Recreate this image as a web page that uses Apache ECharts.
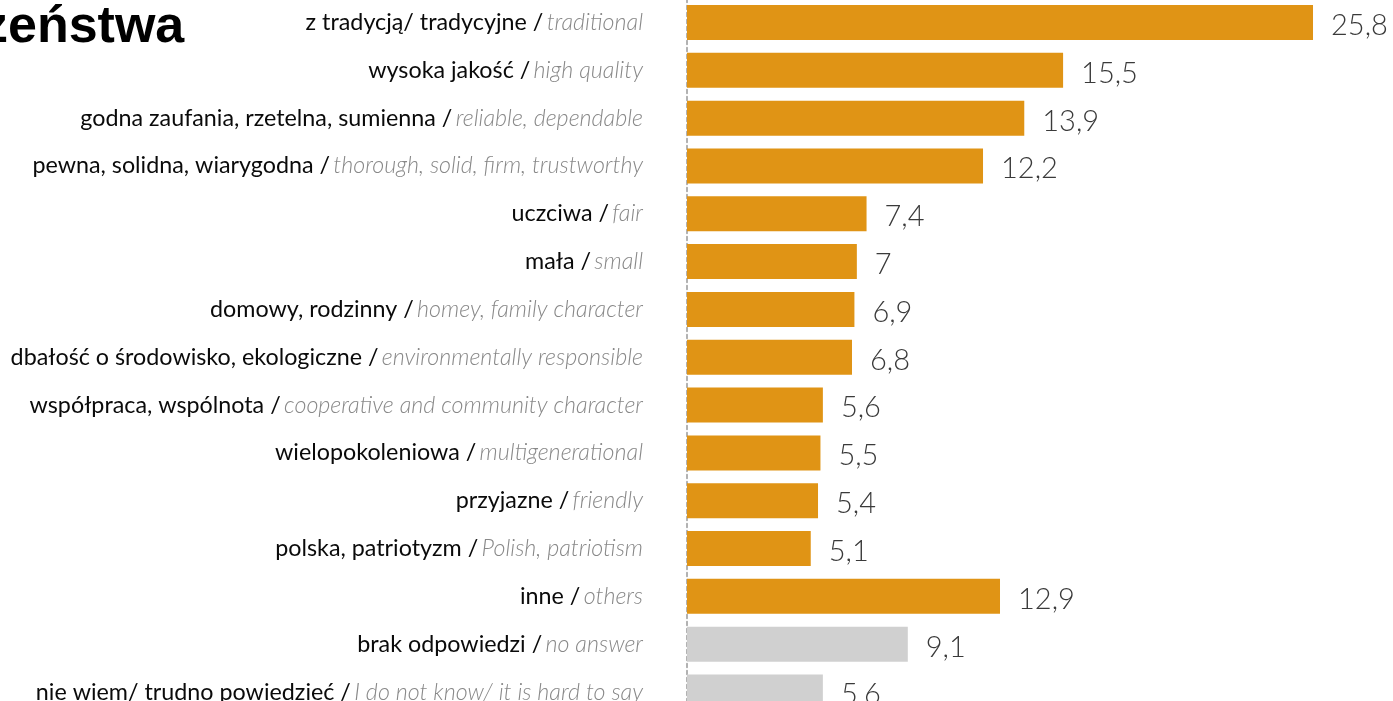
<!DOCTYPE html>
<html>
<head>
<meta charset="utf-8">
<script src="https://cdn.jsdelivr.net/npm/echarts@6/dist/echarts.min.js"></script>
<style>
  html, body { margin: 0; padding: 0; background: #fff; overflow: hidden; width: 1393px; height: 701px; }
  #chart { position: absolute; left: 0; top: -20px; width: 1393px; height: 760px; }
</style>
</head>
<body>
<div id="chart"></div>
<script>
// Polish answer wording
const labelsPl = [
  'z tradycją/ tradycyjne',
  'wysoka jakość',
  'godna zaufania, rzetelna, sumienna',
  'pewna, solidna, wiarygodna',
  'uczciwa',
  'mała',
  'domowy, rodzinny',
  'dbałość o środowisko, ekologiczne',
  'współpraca, wspólnota',
  'wielopokoleniowa',
  'przyjazne',
  'polska, patriotyzm',
  'inne',
  'brak odpowiedzi',
  'nie wiem/ trudno powiedzieć'
];
// English translation of each answer
const labelsEn = [
  'traditional',
  'high quality',
  'reliable, dependable',
  'thorough, solid, firm, trustworthy',
  'fair',
  'small',
  'homey, family character',
  'environmentally responsible',
  'cooperative and community character',
  'multigenerational',
  'friendly',
  'Polish, patriotism',
  'others',
  'no answer',
  'I do not know/ it is hard to say'
];
// share of responses, %
const values = [25.8, 15.5, 13.9, 12.2, 7.4, 7, 6.9, 6.8, 5.6, 5.5, 5.4, 5.1, 12.9, 9.1, 5.6];
// answer kind: substantive answer or missing answer
const answerKind = ['answer','answer','answer','answer','answer','answer','answer','answer','answer','answer','answer','answer','answer','missing','missing'];
const titleText = 'zeństwa';

const kindColor = { answer: '#E09415', missing: '#D0D0D0' };
const categories = labelsPl.map((p, i) => i);
const ROW = 47.82;

const chart = echarts.init(document.getElementById('chart'), null, { renderer: 'canvas' });
chart.setOption({
  animation: false,
  backgroundColor: '#fff',
  grid: { left: 687, top: 18.6, width: 28 * 24.264, height: ROW * labelsPl.length, containLabel: false },
  xAxis: {
    type: 'value', min: 0, max: 28, show: false,
    splitLine: { show: false }
  },
  yAxis: {
    type: 'category', inverse: true, data: categories,
    axisTick: { show: false },
    axisLine: { show: true, lineStyle: { color: '#999', width: 1.5, type: [4, 3] } },
    axisLabel: {
      margin: 44,
      formatter: (v) => '{pl|' + labelsPl[v] + ' /} {en|' + labelsEn[v] + '}',
      rich: {
        pl: { fontFamily: 'Lato', fontSize: 23.3, color: '#0a0a0a', fontWeight: 400 },
        en: { fontFamily: 'Lato', fontSize: 23.3, color: '#888', fontWeight: 300, fontStyle: 'italic' }
      }
    }
  },
  series: [{
    type: 'bar',
    barWidth: 35,
    data: values.map((v, i) => ({ value: v, itemStyle: { color: kindColor[answerKind[i]] } })),
    label: {
      show: true, position: 'right', distance: 18, offset: [0, 3],
      fontFamily: 'Lato', fontWeight: 300, fontSize: 29, color: '#3a3a3a',
      formatter: (p) => String(p.value).replace('.', ',')
    }
  }],
  graphic: [{
    type: 'text', left: -18, top: 20 + 2,
    style: { text: titleText, font: 'bold 52px "Liberation Sans", Arial, sans-serif', fill: '#000' }
  }]
});
</script>
</body>
</html>
